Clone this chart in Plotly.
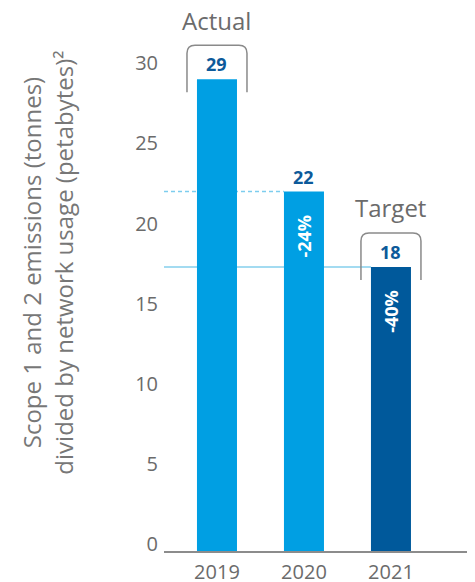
import plotly.graph_objects as go

# ---- data ----
YEARS = ["2019", "2020", "2021"]
EMISSIONS = [29.0, 22.0, 17.3]
VALUE_LABELS = ["29", "22", "18"]
CHANGE_LABELS = [None, "-24%", "-40%"]
BRACKET_LABELS = ["Actual", None, "Target"]
Y_TICKS = [0, 5, 10, 15, 20, 25, 30]
AXIS_TITLE = "Scope 1 and 2 emissions (tonnes)<br>divided by network usage (petabytes)²"

# ---- style ----
LIGHT = "#009FE3"
DARK = "#00599B"
BAR_COLORS = [LIGHT, LIGHT, DARK]
LABEL_BLUE = "#0D5A9A"
GREY = "#6b6b6b"
FONT = "Open Sans"
BASE = -0.42
BAR_WIDTH = 0.46
X_RANGE = [-0.609, 2.966]
Y_RANGE = [BASE, 32.7]

fig = go.Figure()
fig.add_trace(go.Bar(
    x=YEARS,
    y=[v - BASE for v in EMISSIONS],
    base=BASE,
    width=BAR_WIDTH,
    marker=dict(color=BAR_COLORS, line=dict(width=0)),
    customdata=EMISSIONS,
    hovertemplate="%{x}: %{customdata}<extra></extra>",
))

shapes = []
# reference lines
shapes.append(dict(type="line", xref="x", yref="y", layer="below",
                   x0=X_RANGE[0], x1=1 - BAR_WIDTH / 2, y0=EMISSIONS[1], y1=EMISSIONS[1],
                   line=dict(color="#7DCDEE", width=1.5, dash="4px,3px")))
shapes.append(dict(type="line", xref="x", yref="y", layer="below",
                   x0=X_RANGE[0], x1=2 - BAR_WIDTH / 2, y0=EMISSIONS[2], y1=EMISSIONS[2],
                   line=dict(color="#84CFEC", width=1.5)))

annotations = []
r = 8
hw, top, bot = 30, 34, -13
bracket_path = (f"M{-hw},{bot} L{-hw},{top - r} Q{-hw},{top} {-hw + r},{top} "
                f"L{hw - r},{top} Q{hw},{top} {hw},{top - r} L{hw},{bot}")
for i, yr in enumerate(YEARS):
    v = EMISSIONS[i]
    annotations.append(dict(x=i, y=v, xref="x", yref="y", yshift=15, showarrow=False,
                            xanchor="center", yanchor="middle",
                            text=f"<b>{VALUE_LABELS[i]}</b>",
                            font=dict(family=FONT, size=18, color=LABEL_BLUE)))
    if CHANGE_LABELS[i]:
        annotations.append(dict(x=i, y=v, xref="x", yref="y", yshift=-44, showarrow=False,
                                xanchor="center", yanchor="middle",
                                textangle=-90, text=f"<b>{CHANGE_LABELS[i]}</b>",
                                font=dict(family=FONT, size=18, color="white")))
    if BRACKET_LABELS[i]:
        annotations.append(dict(x=i, y=v, xref="x", yref="y", yshift=59, showarrow=False,
                                xanchor="center", yanchor="middle",
                                text=BRACKET_LABELS[i],
                                font=dict(family=FONT, size=24, color=GREY)))
        shapes.append(dict(type="path", xref="x", yref="y", xsizemode="pixel", ysizemode="pixel",
                           xanchor=i, yanchor=v, path=bracket_path, layer="below",
                           line=dict(color="#8a8a8a", width=1.5)))

annotations.append(dict(xref="paper", yref="paper", x=-0.3746, y=0.544, showarrow=False,
                        xanchor="center", yanchor="middle",
                        textangle=-90, text=AXIS_TITLE,
                        font=dict(family=FONT, size=24, color="#777777")))

# page body has an 8px default margin, so the figure is 8px smaller and margins compensate
fig.update_layout(
    width=467, height=574,
    margin=dict(l=156, r=0, t=12, b=31),
    paper_bgcolor="white", plot_bgcolor="white",
    showlegend=False,
    font=dict(family=FONT, color=GREY),
    shapes=shapes, annotations=annotations,
    xaxis=dict(type="category", categoryarray=YEARS, range=X_RANGE, automargin=False,
               showline=True, linecolor="#8c8c8c", linewidth=1.5,
               ticks="", showgrid=False, zeroline=False, ticklabelstandoff=2,
               tickfont=dict(family=FONT, size=20, color=GREY)),
    yaxis=dict(range=Y_RANGE, tickvals=Y_TICKS, showgrid=False, zeroline=False, automargin=False,
               showline=False, ticks="", ticklabelstandoff=5,
               tickfont=dict(family=FONT, size=20, color=GREY)),
)

fig.write_html("out.html")
